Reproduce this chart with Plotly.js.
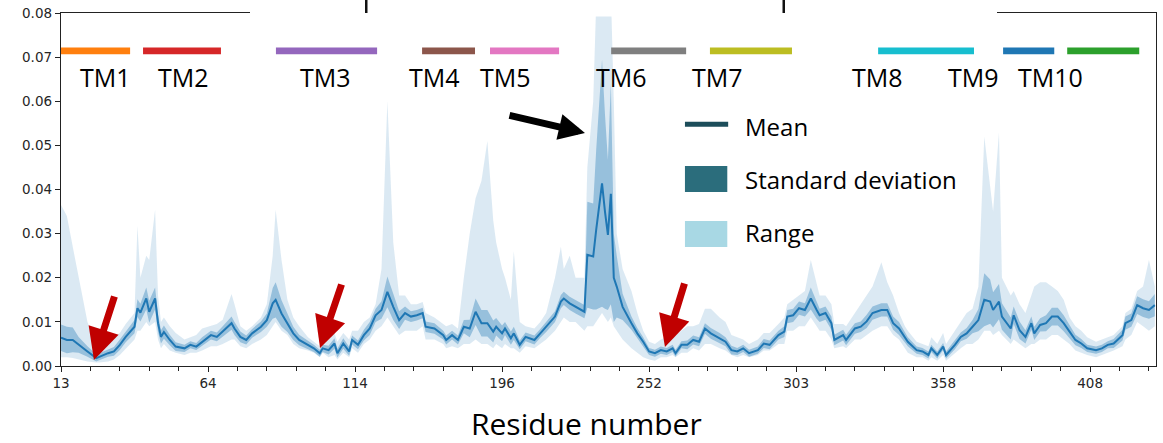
<!DOCTYPE html>
<html>
<head>
<meta charset="utf-8">
<script src="https://cdn.plot.ly/plotly-3.0.1.min.js"></script>
<style>html,body{margin:0;padding:0;background:#fff;}#chart{width:1163px;height:443px;}</style>
</head>
<body>
<div id="chart"></div>
<script>
// ---- data (x = sequential residue index, labelled by residue number) ----
const xIdx = [0,2,4,6,9,12,13,16,18,20,22,25,26,27,29,30,32,33,34,35,37,39,42,44,46,48,51,53,55,58,59,61,63,65,68,70,72,73,75,77,79,81,84,86,88,89,91,93,94,96,98,99,101,103,105,107,109,111,113,115,
117,119,121,123,124,127,130,131,133,135,137,139,141,143,145,147,148,150,151,153,154,156,158,161,163,165,168,170,171,173,175,178,179,181,182,184,185,186,187,188,189,191,194,196,198,200,202,204,206,208,209,211,213,215,217,219,221,224,226,228,230,232,234,237,239,241,244,
246,247,249,251,253,255,257,258,260,262,263,266,267,270,272,274,276,279,281,283,285,287,288,291,293,295,296,298,300,301,304,306,308,310,312,314,316,317,319,320,323,324,326,328,330,331,333,335,337,339,341,343,345,347,349,352,354,356,358,361,362,364,366,368,370,372];

const meanVals = [.0064,.0059,.0059,.0048,.0033,.0018,.0021,.0029,.0033,.0048,.0066,.0089,.0131,.0121,.0153,.0123,.0153,.0097,.0066,.0077,.0059,.0044,.0040,.0048,.0044,.0055,.0070,.0066,.0078,.0097,.0085,.0066,.0059,.0074,.0089,.0104,.0142,.0150,.0119,.0097,.0074,.0059,.0048,.0040,.0029,.0040,.0036,.0051,.0029,.0051,.0033,.0059,.0048,.0070,.0085,.0115,.0127,.0168,.0134,.0104,
.0120,.0112,.0115,.0120,.0089,.0085,.0070,.0059,.0070,.0059,.0089,.0085,.0123,.0097,.0097,.0078,.0089,.0074,.0085,.0063,.0074,.0048,.0066,.0059,.0074,.0089,.0112,.0146,.0153,.0142,.0134,.0123,.0252,.0248,.0308,.0414,.0350,.0297,.0390,.0200,.0180,.0134,.0097,.0074,.0055,.0033,.0029,.0036,.0033,.0040,.0029,.0048,.0048,.0059,.0055,.0085,.0074,.0063,.0055,.0036,.0033,.0040,.0029,.0036,.0051,.0048,.0070,
.0078,.0112,.0115,.0131,.0127,.0153,.0127,.0115,.0120,.0097,.0059,.0070,.0059,.0085,.0089,.0101,.0120,.0127,.0127,.0097,.0085,.0066,.0055,.0036,.0033,.0025,.0040,.0025,.0044,.0025,.0048,.0066,.0074,.0089,.0104,.0150,.0146,.0127,.0146,.0112,.0085,.0115,.0081,.0066,.0097,.0074,.0093,.0097,.0112,.0112,.0097,.0078,.0059,.0051,.0040,.0036,.0040,.0048,.0051,.0070,.0097,.0104,.0138,.0131,.0127,.0138];

const sdVals = [.0030,.0030,.0028,.0018,.0012,.0008,.0008,.0008,.0010,.0012,.0012,.0015,.0020,.0020,.0025,.0025,.0025,.0020,.0015,.0015,.0012,.0010,.0008,.0008,.0008,.0010,.0010,.0010,.0012,.0015,.0015,.0012,.0010,.0010,.0012,.0015,.0035,.0040,.0030,.0020,.0015,.0012,.0010,.0008,.0008,.0008,.0010,.0012,.0010,.0012,.0010,.0010,.0010,.0012,.0015,.0015,.0020,.0035,.0030,.0020,
.0015,.0012,.0012,.0012,.0012,.0012,.0010,.0010,.0010,.0010,.0015,.0020,.0030,.0030,.0030,.0025,.0020,.0018,.0015,.0015,.0015,.0010,.0010,.0010,.0010,.0012,.0012,.0015,.0015,.0015,.0015,.0015,.0120,.0120,.0180,.0280,.0220,.0170,.0250,.0100,.0070,.0030,.0015,.0012,.0010,.0008,.0008,.0008,.0008,.0008,.0008,.0008,.0010,.0010,.0010,.0012,.0012,.0012,.0010,.0010,.0008,.0008,.0008,.0008,.0010,.0010,.0010,
.0012,.0015,.0015,.0015,.0015,.0025,.0020,.0015,.0015,.0015,.0012,.0012,.0012,.0012,.0012,.0015,.0015,.0015,.0015,.0015,.0015,.0012,.0010,.0008,.0008,.0008,.0008,.0008,.0008,.0008,.0010,.0010,.0012,.0015,.0025,.0060,.0050,.0040,.0040,.0030,.0025,.0020,.0020,.0015,.0015,.0015,.0015,.0018,.0020,.0020,.0018,.0015,.0012,.0010,.0008,.0008,.0008,.0008,.0010,.0012,.0015,.0015,.0020,.0020,.0020,.0025];

const rangeLo = [.0020,.0020,.0018,.0015,.0010,.0008,.0008,.0010,.0015,.0025,.0040,.0060,.0080,.0080,.0100,.0090,.0100,.0060,.0040,.0050,.0035,.0030,.0025,.0030,.0030,.0035,.0045,.0045,.0050,.0060,.0060,.0045,.0040,.0050,.0060,.0070,.0090,.0100,.0080,.0070,.0050,.0040,.0035,.0030,.0020,.0030,.0020,.0025,.0015,.0030,.0020,.0040,.0030,.0050,.0060,.0080,.0090,.0110,.0090,.0070,
.0080,.0080,.0080,.0090,.0060,.0060,.0050,.0040,.0045,.0040,.0050,.0050,.0060,.0050,.0050,.0040,.0050,.0040,.0050,.0040,.0040,.0030,.0045,.0040,.0050,.0060,.0080,.0100,.0110,.0100,.0100,.0080,.0090,.0090,.0100,.0120,.0110,.0100,.0110,.0090,.0080,.0060,.0040,.0030,.0020,.0015,.0012,.0020,.0020,.0025,.0020,.0030,.0030,.0040,.0035,.0050,.0050,.0040,.0035,.0025,.0020,.0025,.0020,.0025,.0035,.0035,.0050,
.0050,.0080,.0080,.0090,.0090,.0110,.0090,.0080,.0080,.0060,.0040,.0045,.0040,.0060,.0060,.0070,.0080,.0090,.0090,.0070,.0060,.0040,.0030,.0020,.0020,.0012,.0020,.0012,.0025,.0012,.0030,.0040,.0050,.0050,.0060,.0080,.0080,.0070,.0080,.0070,.0050,.0060,.0050,.0040,.0050,.0050,.0060,.0060,.0070,.0070,.0060,.0050,.0035,.0030,.0025,.0020,.0025,.0030,.0035,.0045,.0060,.0070,.0100,.0090,.0080,.0090];

const rangeHi = [.0365,.0340,.0270,.0200,.0100,.0050,.0050,.0055,.0065,.0075,.0095,.0120,.0318,.0200,.0250,.0240,.0354,.0160,.0100,.0110,.0090,.0075,.0060,.0065,.0070,.0085,.0090,.0095,.0105,.0163,.0140,.0090,.0080,.0090,.0110,.0140,.0250,.0354,.0240,.0150,.0110,.0090,.0065,.0055,.0045,.0055,.0070,.0075,.0055,.0075,.0060,.0080,.0080,.0100,.0110,.0140,.0220,.0600,.0280,.0160,
.0160,.0140,.0140,.0145,.0120,.0110,.0095,.0090,.0095,.0085,.0200,.0300,.0380,.0420,.0510,.0330,.0280,.0220,.0200,.0150,.0260,.0100,.0090,.0085,.0100,.0120,.0200,.0270,.0220,.0250,.0200,.0200,.0450,.0600,.0820,.0850,.0850,.0850,.0850,.0600,.0300,.0220,.0170,.0120,.0080,.0055,.0050,.0060,.0065,.0070,.0070,.0080,.0090,.0090,.0095,.0130,.0130,.0110,.0100,.0070,.0065,.0060,.0050,.0060,.0075,.0075,.0095,
.0110,.0140,.0150,.0160,.0170,.0240,.0190,.0160,.0160,.0140,.0095,.0095,.0090,.0120,.0140,.0160,.0180,.0235,.0190,.0160,.0120,.0090,.0080,.0055,.0050,.0045,.0065,.0050,.0075,.0050,.0080,.0100,.0120,.0130,.0180,.0520,.0400,.0350,.0530,.0200,.0160,.0170,.0140,.0120,.0160,.0180,.0190,.0190,.0180,.0170,.0150,.0110,.0090,.0080,.0065,.0055,.0060,.0065,.0070,.0090,.0120,.0130,.0170,.0180,.0240,.0180];

const tickIdx = [0, 50, 100, 150, 200, 250, 300, 350];
const tickLabels = ['13', '64', '114', '196', '252', '303', '358', '408'];

const tmNames = ['TM1','TM2','TM3','TM4','TM5','TM6','TM7','TM8','TM9','TM10'];
const tmStart = [0, 27.9, 73.1, 122.8, 145.9, 187.1, 220.7, 277.9, 320.4, 342.2];
const tmEnd   = [23.5, 54.4, 107.5, 140.8, 169.4, 212.6, 248.6, 310.5, 337.8, 366.7];
const tmLabelX = [15.3, 41.8, 90.1, 126.9, 151.0, 190.5, 223.1, 277.6, 310.2, 336.4];
const tmColors = ['#ff7f0e','#d62728','#9467bd','#8c564b','#e377c2','#7f7f7f','#bcbd22','#17becf','#1f77b4','#2ca02c'];

const legendNames = ['Mean', 'Standard deviation', 'Range'];

// ---- derived bands ----
const sdLo = meanVals.map((m, i) => m - sdVals[i]);
const sdHi = meanVals.map((m, i) => m + sdVals[i]);

const C0 = '#1f77b4';
const traces = [
  {x: xIdx, y: rangeLo, mode: 'lines', line: {width: 0, color: C0}, hoverinfo: 'skip', showlegend: false},
  {x: xIdx, y: rangeHi, mode: 'lines', line: {width: 0, color: C0}, fill: 'tonexty', fillcolor: 'rgba(31,119,180,0.16)', hoverinfo: 'skip', showlegend: false},
  {x: xIdx, y: sdLo, mode: 'lines', line: {width: 0, color: C0}, hoverinfo: 'skip', showlegend: false},
  {x: xIdx, y: sdHi, mode: 'lines', line: {width: 0, color: C0}, fill: 'tonexty', fillcolor: 'rgba(31,119,180,0.36)', hoverinfo: 'skip', showlegend: false},
  {x: xIdx, y: meanVals, mode: 'lines', line: {width: 2, color: C0}, showlegend: false}
];

const bigFont = {family: 'Open Sans, sans-serif', size: 25, color: '#000'};
const shapes = [];
const annotations = [];

// TM bars and labels
tmNames.forEach((n, i) => {
  shapes.push({type: 'rect', xref: 'x', yref: 'y', x0: tmStart[i], x1: tmEnd[i], y0: 0.07065, y1: 0.07220,
               fillcolor: tmColors[i], line: {width: 0}, layer: 'above'});
  annotations.push({xref: 'x', yref: 'y', x: tmLabelX[i], y: 0.0655, text: n, showarrow: false,
                    font: bigFont, xanchor: 'center', yanchor: 'middle'});
});

// custom legend
shapes.push({type: 'line', xref: 'x', yref: 'y', x0: 212.2, x1: 226.9, y0: 0.0548, y1: 0.0548, line: {color: '#1c4d5a', width: 5}});
shapes.push({type: 'rect', xref: 'x', yref: 'y', x0: 212.2, x1: 226.6, y0: 0.03946, y1: 0.04535, fillcolor: '#2b6d7c', line: {width: 0}});
shapes.push({type: 'rect', xref: 'x', yref: 'y', x0: 212.2, x1: 226.6, y0: 0.02698, y1: 0.03288, fillcolor: '#a8d8e4', line: {width: 0}});
const legendY = [0.0543, 0.0422, 0.0302];
legendNames.forEach((n, i) => {
  annotations.push({xref: 'x', yref: 'y', x: 232.0, y: legendY[i], text: n, showarrow: false,
                    font: {family: 'Open Sans, sans-serif', size: 24, color: '#000'}, xanchor: 'left', yanchor: 'middle'});
});

// white box hiding the cropped title region on top spine + glyph remnants
shapes.push({type: 'rect', xref: 'paper', yref: 'paper', x0: (250 - 61) / 1095, x1: (997 - 61) / 1095,
             y0: (366 - 16.5) / 353, y1: 1.05, fillcolor: '#ffffff', line: {width: 0}, layer: 'above'});
shapes.push({type: 'rect', xref: 'paper', yref: 'paper', x0: (365 - 61) / 1095, x1: (367.5 - 61) / 1095,
             y0: (366 - 13) / 353, y1: 1.04, fillcolor: '#111', line: {width: 0}, layer: 'above'});
shapes.push({type: 'rect', xref: 'paper', yref: 'paper', x0: (782.5 - 61) / 1095, x1: (785 - 61) / 1095,
             y0: (366 - 13) / 353, y1: 1.04, fillcolor: '#111', line: {width: 0}, layer: 'above'});

// arrows
annotations.push({xref: 'x', yref: 'y', x: 178.2, y: 0.0528, ax: -77, ay: -18, text: '', showarrow: true,
                  arrowhead: 2, arrowwidth: 7, arrowsize: 0.75, arrowcolor: '#000', standoff: 0});
const redTips = [[11.2, 0.00136], [88.1, 0.00408], [205.4, 0.00431]];
const redTails = [[21, -65], [22, -65], [20, -65]];
redTips.forEach((t, i) => {
  annotations.push({xref: 'x', yref: 'y', x: t[0], y: t[1], ax: redTails[i][0], ay: redTails[i][1], text: '',
                    showarrow: true, arrowhead: 2, arrowwidth: 7, arrowsize: 0.9, arrowcolor: '#c00000', standoff: 0});
});

// x-axis title
annotations.push({xref: 'paper', yref: 'paper', x: (586 - 61) / 1095, y: (366 - 423.5) / 353, text: 'Residue number',
                  showarrow: false, font: {family: 'Open Sans, sans-serif', size: 30, color: '#000'},
                  xanchor: 'center', yanchor: 'middle'});

const tickFont = {family: 'DejaVu Sans, sans-serif', size: 13.5, color: '#262626'};
const layout = {
  width: 1163, height: 443,
  margin: {l: 61, r: 7, t: 13, b: 77},
  paper_bgcolor: '#fff', plot_bgcolor: '#fff',
  showlegend: false,
  xaxis: {
    range: [0, 372.4], tickmode: 'array', tickvals: tickIdx, ticktext: tickLabels,
    ticks: 'outside', ticklen: 5, tickwidth: 1, tickcolor: '#222',
    minor: {tickmode: 'linear', tick0: 0, dtick: 10, ticks: 'outside', ticklen: 4, tickwidth: 1, tickcolor: '#222'},
    showgrid: false, zeroline: false, showline: true, linecolor: '#222', linewidth: 1.2, mirror: true,
    tickfont: tickFont
  },
  yaxis: {
    range: [0, 0.08], tickmode: 'array',
    tickvals: [0, 0.01, 0.02, 0.03, 0.04, 0.05, 0.06, 0.07, 0.08],
    ticktext: ['0.00','0.01','0.02','0.03','0.04','0.05','0.06','0.07','0.08'],
    ticks: 'outside', ticklen: 5, tickwidth: 1, tickcolor: '#222',
    showgrid: false, zeroline: false, showline: true, linecolor: '#222', linewidth: 1.2, mirror: true,
    tickfont: tickFont
  },
  shapes: shapes,
  annotations: annotations
};

Plotly.newPlot('chart', traces, layout, {staticPlot: true, displayModeBar: false});
</script>
</body>
</html>
